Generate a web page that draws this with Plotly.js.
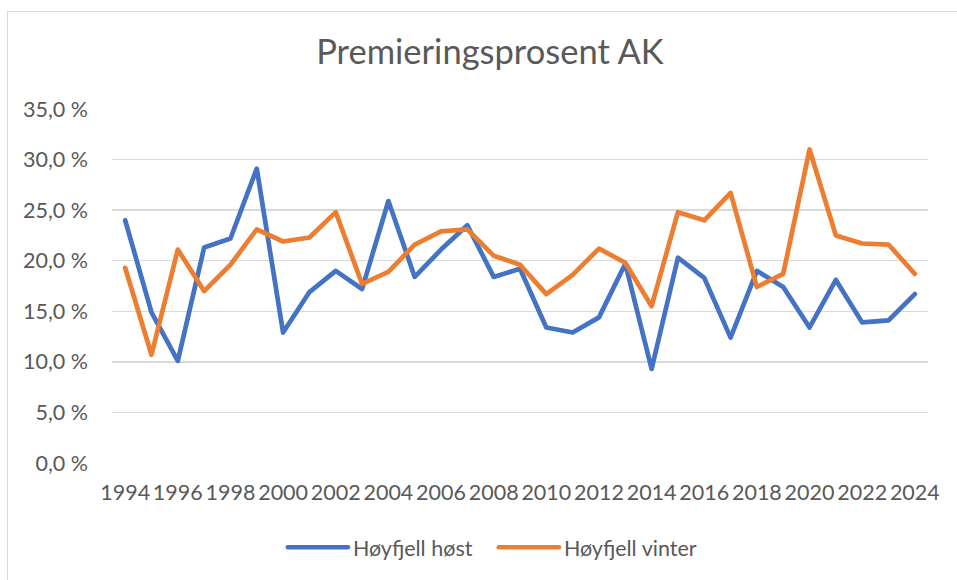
<!DOCTYPE html>
<html>
<head>
<meta charset="utf-8">
<script src="https://cdn.plot.ly/plotly-3.0.1.min.js"></script>
<style>
  html, body { margin: 0; padding: 0; background: #fff; }
  #wrap { position: relative; width: 957px; height: 580px; overflow: hidden; }
  #chart { width: 957px; height: 580px; }
  #frame { position: absolute; left: 7px; top: 11px; width: 1000px; height: 700px;
           border: 1px solid #d9d9d9; pointer-events: none; box-sizing: border-box; }
  .js-line { stroke-linejoin: round !important; stroke-linecap: round !important; }
</style>
</head>
<body>
<div id="wrap">
  <div id="chart"></div>
  <div id="frame"></div>
</div>
<script>
const years = [1994,1995,1996,1997,1998,1999,2000,2001,2002,2003,2004,2005,2006,2007,2008,2009,
               2010,2011,2012,2013,2014,2015,2016,2017,2018,2019,2020,2021,2022,2023,2024];
const hostValues = [24.0,14.9,10.1,21.3,22.2,29.1,12.9,16.9,19.0,17.2,25.9,18.4,21.1,23.5,18.4,19.2,
                    13.4,12.9,14.4,19.7,9.3,20.3,18.3,12.4,19.0,17.4,13.4,18.1,13.9,14.1,16.7];
const vinterValues = [19.3,10.7,21.1,17.0,19.6,23.1,21.9,22.3,24.8,17.7,18.9,21.6,22.9,23.1,20.5,19.6,
                      16.7,18.6,21.2,19.8,15.5,24.8,24.0,26.7,17.4,18.7,31.0,22.5,21.7,21.6,18.7];
const seriesNames = ["Høyfjell høst", "Høyfjell vinter"];
const titleText = "Premieringsprosent AK";
const yTicks = [0,5,10,15,20,25,30,35];
const yTickLabels = ["0,0 %","5,0 %","10,0 %","15,0 %","20,0 %","25,0 %","30,0 %","35,0 %"];
const xTicks = [1994,1996,1998,2000,2002,2004,2006,2008,2010,2012,2014,2016,2018,2020,2022,2024];

const fontFam = "Lato, 'Open Sans', sans-serif";
const textCol = "#595959";
const fs = 21.5;

const traces = [
  { x: years, y: hostValues, name: seriesNames[0], type: "scatter", mode: "lines",
    line: { color: "#4472C4", width: 4.7 }, hoverinfo: "skip" },
  { x: years, y: vinterValues, name: seriesNames[1], type: "scatter", mode: "lines",
    line: { color: "#ED7D31", width: 4.7 }, hoverinfo: "skip" }
];

const layout = {
  width: 957, height: 580,
  paper_bgcolor: "#ffffff", plot_bgcolor: "#ffffff",
  margin: { l: 112, r: 29, t: 109, b: 117 },
  font: { family: fontFam, size: fs, color: textCol },
  title: { text: titleText, font: { family: fontFam, size: 34.5, color: textCol },
           xref: "container", x: 0.512, xanchor: "center",
           yref: "container", y: 0.91, yanchor: "middle" },
  xaxis: { range: [1993.5, 2024.5], tickmode: "array", tickvals: xTicks, ticktext: xTicks.map(String),
           showgrid: false, zeroline: false, showline: false, ticks: "",
           ticklabelstandoff: 14, tickfont: { family: fontFam, size: fs, color: textCol } },
  yaxis: { range: [0, 35], tickmode: "array", tickvals: yTicks, ticktext: yTickLabels,
           showgrid: true, gridcolor: "#d9d9d9", gridwidth: 1.5, zeroline: false,
           showline: false, ticks: "", ticklabelstandoff: 23,
           tickfont: { family: fontFam, size: fs, color: textCol } },
  showlegend: true,
  legend: { orientation: "h", xref: "paper", x: 0.468, xanchor: "center",
            yref: "paper", y: -0.238, yanchor: "middle", itemwidth: 60,
            entrywidth: 136, entrywidthmode: "pixels",
            font: { family: fontFam, size: fs, color: textCol }, bgcolor: "rgba(0,0,0,0)" }
};

Plotly.newPlot("chart", traces, layout, { staticPlot: true, displayModeBar: false });
</script>
</body>
</html>
